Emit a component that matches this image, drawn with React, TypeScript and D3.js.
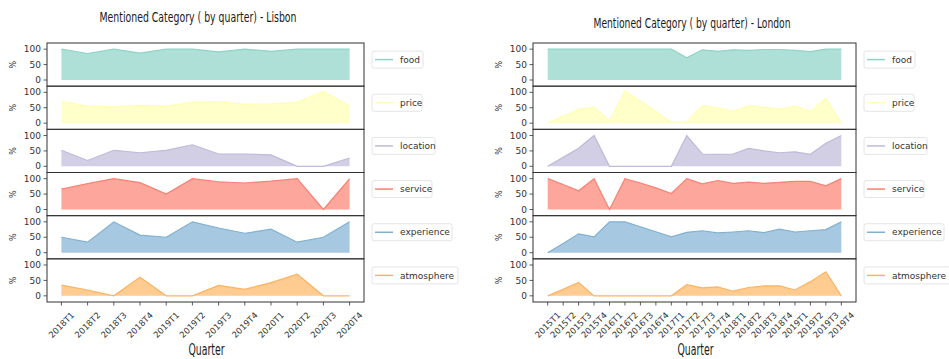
import React from 'react';
import * as d3 from 'd3';

// categories shown as stacked panels
const categories = ['food', 'price', 'location', 'service', 'experience', 'atmosphere'];
const categoryColors = ['#8dd3c7', '#ffffb3', '#bebada', '#fb8072', '#80b1d3', '#fdb462'];

// Lisbon, quarters 2018T1..2020T4 (% of reviews mentioning category)
const lisbonQuarters = ['2018T1', '2018T2', '2018T3', '2018T4', '2019T1', '2019T2', '2019T3', '2019T4', '2020T1', '2020T2', '2020T3', '2020T4'];
const lisbonFood = [100, 86, 100, 87, 100, 100, 91, 100, 93, 100, 100, 100];
const lisbonPrice = [71, 55, 53, 58, 55, 68, 70, 61, 63, 68, 104, 55];
const lisbonLocation = [52, 19, 52, 44, 52, 70, 40, 40, 37, 0, 0, 27];
const lisbonService = [66, 84, 100, 87, 50, 100, 90, 86, 92, 100, 0, 100];
const lisbonExperience = [50, 34, 100, 57, 50, 100, 80, 63, 76, 34, 50, 100];
const lisbonAtmosphere = [35, 19, 0, 60, 0, 0, 34, 21, 43, 70, 0, 0];

// London, quarters 2015T1..2019T4
const londonQuarters = ['2015T1', '2015T2', '2015T3', '2015T4', '2016T1', '2016T2', '2016T3', '2016T4', '2017T1', '2017T2', '2017T3', '2017T4', '2018T1', '2018T2', '2018T3', '2018T4', '2019T1', '2019T2', '2019T3', '2019T4'];
const londonFood = [100, 100, 100, 100, 100, 100, 100, 100, 100, 72, 98, 93, 98, 96, 99, 99, 96, 92, 100, 100];
const londonPrice = [0, 22, 45, 52, 7, 105, 72, 38, 3, 4, 57, 50, 38, 57, 52, 46, 55, 38, 80, 0];
const londonLocation = [0, 29, 59, 100, 0, 0, 0, 0, 0, 100, 40, 39, 40, 58, 50, 44, 47, 39, 75, 100];
const londonService = [100, 81, 61, 100, 0, 100, 86, 70, 52, 100, 83, 94, 85, 89, 85, 88, 91, 91, 77, 100];
const londonExperience = [0, 30, 61, 51, 100, 100, 84, 68, 51, 66, 71, 64, 67, 71, 65, 76, 67, 71, 75, 100];
const londonAtmosphere = [0, 21, 43, 0, 0, 0, 0, 0, 0, 36, 26, 29, 15, 27, 32, 32, 19, 46, 78, 0];

const yTicks = [0, 50, 100];

const W = 949;
const H = 359;
const PANEL_TOP = 43;
const PANEL_BOTTOM = 302;

// blend a colour with white, like matplotlib alpha on white background
const tint = (c, a) => {
    const rgb = d3.rgb(c);
    return d3.rgb(rgb.r * a + 255 * (1 - a), rgb.g * a + 255 * (1 - a), rgb.b * a + 255 * (1 - a)).formatHex();
};

const tickFont = "'DejaVu Sans', sans-serif";
const titleFont = "'DejaVu Sans Condensed', 'DejaVu Sans', sans-serif";

const legendWidth = {
    food: 51, price: 50, location: 63, service: 60, experience: 80, atmosphere: 86
};

const Multiples = ({ title, quarters, series, left, right, titleX, titleY, ylabelX }) => {
    const n = quarters.length;
    const x = d3.scaleLinear()
        .domain([-(n - 1) * 0.05, (n - 1) * 1.05])
        .range([left, right]);
    const panelH = (PANEL_BOTTOM - PANEL_TOP) / series.length;

    return (
        <g>
            <text x={titleX} y={titleY} textAnchor="middle" fontFamily={titleFont} fontStretch="condensed"
                fontSize={14.5} fill="#1a1a1a" textLength={197} lengthAdjust="spacingAndGlyphs">{title}</text>
            {series.map((s, i) => {
                const top = PANEL_TOP + i * panelH;
                const y = d3.scaleLinear().domain([-20, 120]).range([top + panelH, top]);
                const area = d3.area()
                    .x((d, j) => x(j))
                    .y0(y(0))
                    .y1(d => y(d));
                const line = d3.line()
                    .x((d, j) => x(j))
                    .y(d => y(d));
                const legY = top + panelH / 2 - 5;
                const lx = right + 8;
                return (
                    <g key={s.name}>
                        <path d={area(s.values)} fill={tint(s.color, 0.7)} />
                        <path d={line(s.values)} fill="none" stroke={s.color} strokeWidth={1.2} />
                        <rect x={left} y={top} width={right - left} height={panelH} fill="none" stroke="#333" strokeWidth={1} />
                        {yTicks.map(t => (
                            <g key={t}>
                                <line x1={left - 3.5} x2={left} y1={y(t)} y2={y(t)} stroke="#333" strokeWidth={0.8} />
                                <text x={left - 6} y={y(t)} dy="0.35em" textAnchor="end" fontFamily={tickFont} fontSize={9} fill="#333">{t}</text>
                            </g>
                        ))}
                        <text transform={`translate(${ylabelX},${top + panelH / 2}) rotate(-90)`} textAnchor="middle" fontFamily={tickFont} fontSize={8} fill="#333">%</text>
                        <rect x={lx} y={legY - 8.5} width={legendWidth[s.name]} height={17} rx={2} fill="#fff" stroke="#ddd" strokeWidth={0.8} />
                        <line x1={lx + 3} x2={lx + 21} y1={legY} y2={legY} stroke={s.color} strokeWidth={1.5} />
                        <text x={lx + 28} y={legY} dy="0.35em" fontFamily={tickFont} fontSize={9} fill="#333">{s.name}</text>
                    </g>
                );
            })}
            {quarters.map((q, j) => (
                <g key={q}>
                    <line x1={x(j)} x2={x(j)} y1={PANEL_BOTTOM} y2={PANEL_BOTTOM + 3.5} stroke="#333" strokeWidth={0.8} />
                    <text transform={`translate(${x(j)},${PANEL_BOTTOM + 23}) rotate(-45)`} textAnchor="middle" dy="0.35em" fontFamily={tickFont} fontSize={8.5} fill="#333">{q}</text>
                </g>
            ))}
            <text x={(left + right) / 2 + 1} y={355} textAnchor="middle" fontFamily={titleFont} fontStretch="condensed"
                fontSize={15} fill="#1a1a1a" textLength={36} lengthAdjust="spacingAndGlyphs">Quarter</text>
        </g>
    );
};

const App = () => {
    const lisbon = [lisbonFood, lisbonPrice, lisbonLocation, lisbonService, lisbonExperience, lisbonAtmosphere]
        .map((values, i) => ({ name: categories[i], color: categoryColors[i], values }));
    const london = [londonFood, londonPrice, londonLocation, londonService, londonExperience, londonAtmosphere]
        .map((values, i) => ({ name: categories[i], color: categoryColors[i], values }));

    return (
        <svg width={W} height={H} style={{ position: 'absolute', left: 0, top: 0, background: '#fff' }}>
            <Multiples title="Mentioned Category ( by quarter) - Lisbon" quarters={lisbonQuarters} series={lisbon}
                left={47} right={364} titleX={198} titleY={22} ylabelX={16} />
            <Multiples title="Mentioned Category ( by quarter) - London" quarters={londonQuarters} series={london}
                left={533} right={856} titleX={692} titleY={28} ylabelX={502} />
        </svg>
    );
};

export default App;
